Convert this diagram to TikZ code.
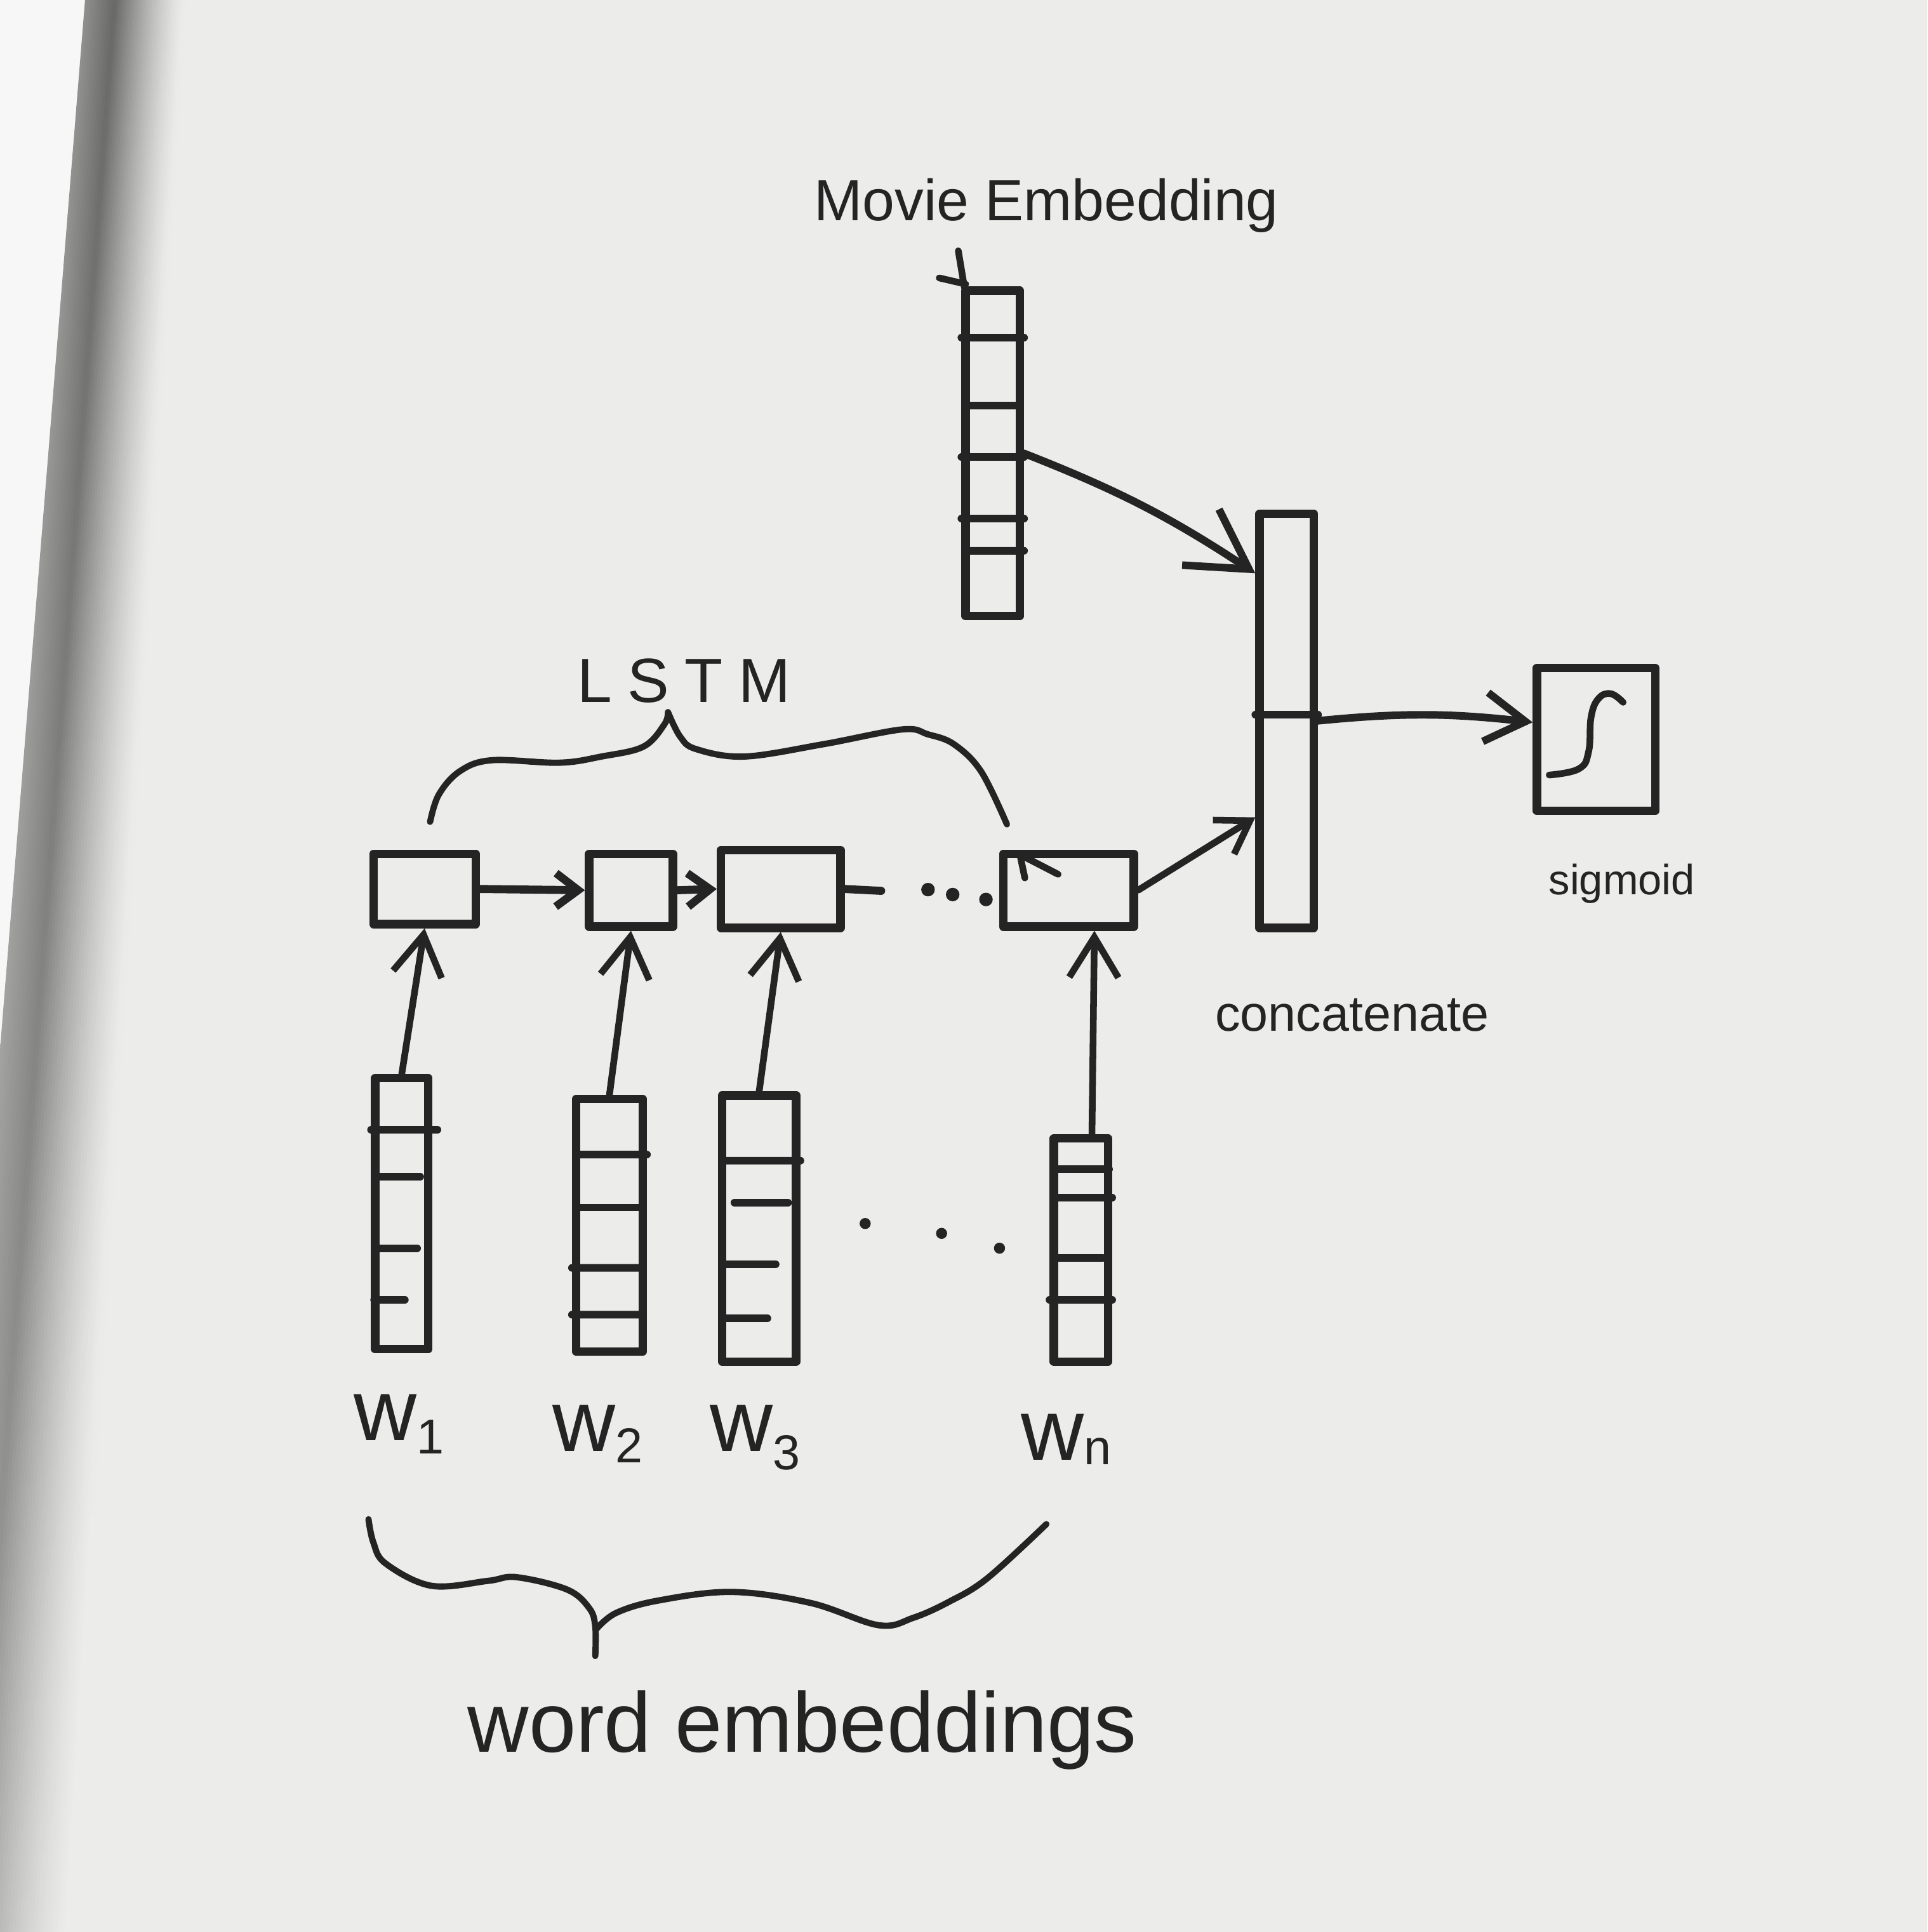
\documentclass[tikz,border=0pt]{standalone}
\usepackage{fontspec}
\setmainfont{Liberation Sans}
\usetikzlibrary{arrows.meta,calc}
\definecolor{ink}{RGB}{36,36,36}
\definecolor{paper}{RGB}{236,236,234}
\newcommand\unitpx{0.019412cm}
\newcommand\vecdiv[4]{\draw[divline] ($(#1.west |- 0,#2)!#3!(#1.east |- 0,#2)$) -- ($(#1.west |- 0,#2)!#4!(#1.east |- 0,#2)$);}
\newcommand\wlabtxt[2]{{\fontsize{39}{40}\selectfont w}\raisebox{-#2pt}{\fontsize{22}{22}\selectfont #1}}
\tikzset{
  vecbox/.style 2 args={draw=ink, line width=3.8pt, line join=round, rectangle, inner sep=0pt,
    minimum width=#1*\unitpx, minimum height=#2*\unitpx},
  divline/.style={draw=ink, line width=3.4pt, line cap=round},
  inkline/.style={draw=ink, line width=3pt, line cap=round, line join=round},
  arrbig/.style={inkline, line width=3.4pt, -{Straight Barb[length=26pt,width=30pt]}},
  arrmid/.style={inkline, -{Straight Barb[length=18pt,width=22pt]}},
  arrsml/.style={inkline, -{Straight Barb[length=14pt,width=18pt]}},
  arrtiny/.style={inkline, line width=3.6pt, -{Straight Barb[length=10pt,width=15pt]}},
  bracestroke/.style={draw=ink, line width=2.8pt, line cap=round, line join=round},
  dotnode/.style={circle, fill=ink, inner sep=0pt, minimum size=#1*\unitpx},
  label/.style={text=ink, inner sep=0pt}
}
\begin{document}
\begin{tikzpicture}[x=0.019412cm, y=-0.019412cm]
% paper and bounding box
\fill[paper] (0,0) rectangle (1564,1568);
\useasboundingbox (0,0) rectangle (1564,1568);
% binding shadow at the left edge
\begin{scope}
\clip (0,0) rectangle (1564,1568);
\fill[paper!40!white] (0,0) -- (69,0) -- (-58,1568) -- (0,1568) -- cycle;
\foreach \i in {0,...,39}{
  \pgfmathsetmacro\ta{\i/40}
  \pgfmathsetmacro\tb{(\i+1.3)/40}
  \pgfmathsetmacro\tm{(\i+0.5)/40}
  \pgfmathsetmacro\g{\tm<0.3 ? 0.7+0.3*\tm/0.3 : ((1-\tm)/0.7)^1.3}
  \pgfmathsetmacro\dt{56*\g}
  \pgfmathsetmacro\db{34*\g}
  \shade[top color=black!\dt!paper, bottom color=black!\db!paper]
    (69+81*\ta,0) -- (69+81*\tb,0) -- (-58+113*\tb,1568) -- (-58+113*\ta,1568) -- cycle;
}
\end{scope}

% ---- vectors and boxes ----
\node[vecbox={44}{264}] (mv) at (805.5,368) {};
\node[vecbox={44}{336}] (cc) at (1044,585) {};
\node[vecbox={96}{116}] (sg) at (1295,600) {};
\node[vecbox={83}{57}]  (c1) at (344.5,721.5) {};
\node[vecbox={68}{59}]  (c2) at (512,722.5) {};
\node[vecbox={97}{63}]  (c3) at (633.5,721.5) {};
\node[vecbox={106}{59}] (cn) at (867,722.5) {};
\node[vecbox={43}{220}] (w1) at (326,985) {};
\node[vecbox={54}{205}] (w2) at (494.5,994.5) {};
\node[vecbox={60}{216}] (w3) at (616,997) {};
\node[vecbox={44}{181}] (wn) at (877,1014.5) {};

% dividers
\vecdiv{mv}{274}{0}{1}
\vecdiv{mv}{329}{0.12}{0.86}
\vecdiv{mv}{371}{0}{1}
\vecdiv{mv}{421}{0}{1}
\vecdiv{mv}{447}{0.1}{1}
\vecdiv{cc}{580}{0}{1}
\vecdiv{w1}{917}{0}{1.08}
\vecdiv{w1}{955}{0.15}{0.8}
\vecdiv{w1}{1013}{0.1}{0.75}
\vecdiv{w1}{1055}{0.05}{0.55}
\vecdiv{w2}{937}{0.08}{1}
\vecdiv{w2}{980}{0.1}{0.9}
\vecdiv{w2}{1029}{0}{0.9}
\vecdiv{w2}{1067}{0}{0.95}
\vecdiv{w3}{942}{0.1}{1}
\vecdiv{w3}{976}{0.2}{0.85}
\vecdiv{w3}{1026}{0.05}{0.7}
\vecdiv{w3}{1070}{0.05}{0.6}
\vecdiv{wn}{949}{0.15}{0.95}
\vecdiv{wn}{972}{0.1}{1}
\vecdiv{wn}{1021}{0.1}{0.85}
\vecdiv{wn}{1055}{0}{1}

% small marks
\draw[inkline] ($(mv.north west)+(-2.5,-29)$) -- ($(mv.north west)+(2.5,1)$);
\draw[inkline] ($(mv.north west)+(-18,-7)$) -- ($(mv.north west)+(3.5,-2)$);
\draw[inkline] ($(cn.north west)+(21,23)$) -- ($(cn.north west)+(17,4)$) -- ($(cn.north west)+(48,20)$);

% sigmoid curve
\draw[inkline, shift={(sg.center)}] plot[smooth, tension=0.7] coordinates
  {(22,-30) (12,-37) (2,-33) (-4,-18) (-6,10) (-14,24) (-38,29)};

% ---- connectors ----
\draw[arrmid] (w1.north) -- (c1.south);
\draw[arrmid] (w2.north) -- (c2.south);
\draw[arrmid] (w3.north) -- (c3.south);
\draw[arrmid] ($(wn.north)+(9,0)$) -- ($(cn.south)+(21,0)$);
\draw[arrtiny] (c1.east) -- (c2.west);
\draw[arrtiny] (c2.east) -- (c3.west);
\coordinate (c3out) at (715,723);
\draw[inkline, line width=3.6pt] (c3.east) -- (c3out);
\node[dotnode=11] (ld1) at (753,722) {};
\node[dotnode=11] (ld2) at (773,726) {};
\node[dotnode=11] (ld3) at (800,730) {};
\node[dotnode=9] (wd1) at (702,993) {};
\node[dotnode=9] (wd2) at (764,1001) {};
\node[dotnode=9] (wd3) at (811,1013) {};
\draw[arrsml] (cn.east) -- (cc.252);
\draw[arrbig] (mv.east) to[bend left=6] (cc.102);
\draw[arrmid, line width=3.4pt] (cc.east) to[bend left=6] (sg.165);

% ---- braces ----
\draw[bracestroke] plot[smooth, tension=0.6] coordinates
  {(349,667) (356,645) (373,626) (399,617) (454,619) (488,614) (522,606) (539,588) (542,578)};
\draw[bracestroke] plot[smooth, tension=0.6] coordinates
  {(542,578) (552,598) (565,608) (604,614) (668,604) (732,592) (753,596) (774,604) (796,626) (817,669)};
\draw[bracestroke] plot[smooth, tension=0.6] coordinates
  {(299,1233) (303,1252) (313,1269) (350,1287) (396,1283) (419,1280) (460,1290) (478,1305) (483,1320) (483,1344)};
\draw[bracestroke] plot[smooth, tension=0.6] coordinates
  {(484,1322) (500,1309) (534,1299) (594,1292) (658,1301) (713,1319) (741,1313) (770,1300) (801,1281) (849,1237)};

% ---- labels ----
\node[label, anchor=base] (tmv) at (849,179) {\fontsize{26}{30}\selectfont Movie Embedding};
\node[label, anchor=base] (tlstm) at (555,570) {\fontsize{28}{30}\selectfont L\kern7pt S\kern7pt T\kern7pt M};
\node[label, anchor=base] (tcc) at (1097,837) {\fontsize{22.5}{26}\selectfont concatenate};
\node[label, anchor=base] (tsg) at (1316,726) {\fontsize{19}{22}\selectfont sigmoid};
\node[label, anchor=base] (twe) at (651,1422) {\fontsize{38}{42}\selectfont word embeddings};
\node[label, anchor=base west] (lw1) at (287,1169) {\wlabtxt{1}{6}};
\node[label, anchor=base west] (lw2) at (448,1178) {\wlabtxt{2}{5}};
\node[label, anchor=base west] (lw3) at (576,1178) {\wlabtxt{3}{8}};
\node[label, anchor=base west] (lwn) at (828,1185) {\wlabtxt{n}{2}};
\end{tikzpicture}
\end{document}
